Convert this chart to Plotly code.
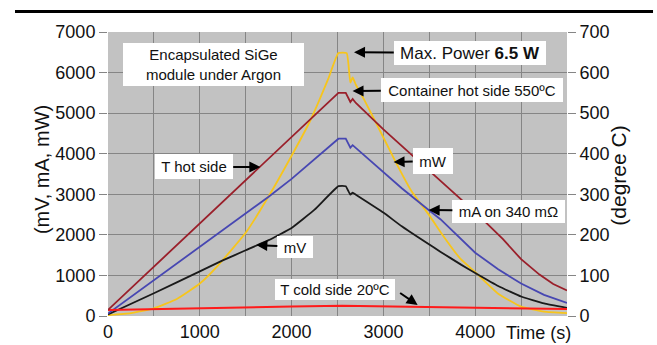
import plotly.graph_objects as go

# ---- data (time in s) ----
t_hot = [0, 500, 1000, 1500, 2000, 2510, 2590, 2640, 2665, 2700, 3000, 3500, 4000, 4300, 4500, 4700, 4850, 5000]
T_hot = [15, 121.5, 228, 335, 441.5, 550, 550, 527.5, 535, 525, 460, 358, 256, 190, 140, 102, 79, 63]  # degree C

t_cold = [0, 500, 1000, 1500, 2000, 2550, 3000, 3500, 4000, 4500, 5000]
T_cold = [15, 17.5, 19.5, 21.5, 23.5, 25.5, 24, 21.5, 19.5, 18, 17]  # degree C

t_mw = [0, 250, 500, 750, 1000, 1200, 1500, 1750, 2000, 2200, 2400, 2510, 2600, 2640, 2665, 2700, 2800,
        3000, 3133, 3300, 3500, 3650, 3843, 4000, 4250, 4500, 4750, 5000]
mW = [20, 70, 190, 420, 800, 1250, 2050, 2950, 3950, 4800, 5850, 6480, 6480, 5750, 5880, 5700, 5290,
      4400, 3800, 3100, 2480, 1980, 1400, 1080, 550, 230, 110, 70]

t_ma = [0, 500, 1000, 1250, 1750, 2000, 2250, 2510, 2590, 2640, 2665, 2700, 3000, 3200, 3500, 3624,
        4000, 4250, 4500, 4750, 5000]
mA = [60, 880, 1700, 2100, 2940, 3380, 3860, 4370, 4370, 4150, 4210, 4140, 3560, 3150, 2600, 2380,
      1560, 1150, 800, 520, 320]

t_mv = [0, 500, 1000, 1250, 1500, 1750, 2000, 2250, 2510, 2590, 2640, 2665, 2700, 3000, 3200, 3624,
        3850, 4000, 4250, 4500, 4750, 5000]
mV = [40, 560, 1100, 1370, 1620, 1870, 2170, 2620, 3200, 3200, 2990, 3040, 2990, 2550, 2210, 1580,
      1260, 1060, 740, 480, 310, 200]

x_tickvals = [0, 500, 1000, 1500, 2000, 2500, 3000, 3500, 4000, 4500]
x_ticktext = ["0", "", "1000", "", "2000", "", "3000", "", "4000", ""]

FONT = "Liberation Sans, Arial, sans-serif"
TXT = "#111111"

fig = go.Figure()
fig.add_trace(go.Scatter(x=t_cold, y=T_cold, yaxis="y2", mode="lines",
                         line=dict(color="#ff1a1a", width=2), name="T cold side"))
fig.add_trace(go.Scatter(x=t_mw, y=mW, mode="lines", line=dict(color="#f7c51b", width=1.8, shape="spline", smoothing=0.4), name="mW"))
fig.add_trace(go.Scatter(x=t_mv, y=mV, mode="lines", line=dict(color="#1a1a1a", width=1.8, shape="spline", smoothing=0.3), name="mV"))
fig.add_trace(go.Scatter(x=t_ma, y=mA, mode="lines", line=dict(color="#4747b2", width=1.8), name="mA"))
fig.add_trace(go.Scatter(x=t_hot, y=T_hot, yaxis="y2", mode="lines",
                         line=dict(color="#9a1f2a", width=1.8), name="T hot side"))

grid = "#858585"
fig.update_layout(
    width=657, height=345,
    margin=dict(l=108, r=90, t=32, b=29),
    paper_bgcolor="white", plot_bgcolor="#c2c2c2",
    showlegend=False,
    font=dict(family=FONT, color=TXT, size=18),
    xaxis=dict(range=[0, 5000], tickvals=x_tickvals, ticktext=x_ticktext, showgrid=True,
               gridcolor=grid, gridwidth=1, zeroline=False, ticks="", showline=False,
               automargin=False, ticklabelstandoff=3,
               tickfont=dict(size=18, family=FONT, color=TXT)),
    yaxis=dict(range=[0, 7000], dtick=1000, showgrid=True, gridcolor=grid, gridwidth=1,
               zeroline=False, ticks="outside", ticklen=8, tickcolor=grid, showline=False,
               automargin=False,
               tickfont=dict(size=18, family=FONT, color=TXT)),
    yaxis2=dict(range=[0, 700], dtick=100, overlaying="y", side="right", showgrid=False,
                zeroline=False, ticks="outside", ticklen=8, tickcolor=grid, showline=False,
                automargin=False,
                tickfont=dict(size=18, family=FONT, color=TXT)),
)

# top rule
fig.add_shape(type="line", xref="paper", yref="paper", x0=-0.2026, x1=1.1874, y0=1.072, y1=1.072,
              line=dict(color="black", width=3))

def box(text, x, y, w, h, size=15, **kw):
    fig.add_annotation(text=text, x=x, y=y, xref="x", yref="y", showarrow=False,
                       bgcolor="white", borderpad=0, borderwidth=0, width=w, height=h,
                       font=dict(size=size, family=FONT, color=TXT), **kw)

def arrow_box(text, tip_x, tip_y, cx, cy, w, h, size=15):
    fig.add_annotation(text=text, x=tip_x, y=tip_y, ax=cx, ay=cy, xref="x", yref="y",
                       axref="x", ayref="y", showarrow=True, arrowhead=2, arrowsize=1.1,
                       arrowwidth=2, arrowcolor="black",
                       bgcolor="white", borderpad=0, borderwidth=0, width=w, height=h,
                       font=dict(size=size, family=FONT, color=TXT))

box("Encapsulated SiGe<br>module under Argon", 1148, 6199, 181, 43)
arrow_box("Max. Power <b>6.5 W</b>", 2680, 6500, 3941, 6483, 152, 24, size=17)
arrow_box("Container hot side 550ºC", 2664, 5546, 3963, 5570, 182, 24)
arrow_box("T hot side", 1659, 3673, 939, 3673, 78, 25)
arrow_box("mW", 3111, 3796, 3537, 3820, 40, 26)
arrow_box("mA on 340 mΩ", 3493, 2613, 4367, 2588, 113, 23)
arrow_box("mV", 1616, 1750, 2041, 1700, 36, 22)
box("T cold side 20ºC", 2478, 641, 120, 21)
fig.add_annotation(text="", x=3373, y=271, ax=3166, ay=592, xref="x", yref="y", axref="x", ayref="y",
                   showarrow=True, arrowhead=2, arrowsize=1.1, arrowwidth=2, arrowcolor="black")

# axis titles and "Time (s)"
fig.add_annotation(text="(mV, mA, mW)", xref="paper", yref="paper", x=-0.172, y=0.514,
                   textangle=-90, showarrow=False, font=dict(size=20, family=FONT, color=TXT))
fig.add_annotation(text="(degree C)", xref="paper", yref="paper", x=1.142, y=0.493,
                   textangle=-90, showarrow=False, font=dict(size=21, family=FONT, color=TXT))
fig.add_annotation(text="Time (s)", xref="x", yref="paper", x=4694, y=-0.06, yanchor="middle",
                   showarrow=False, font=dict(size=18, family=FONT, color=TXT))

fig.write_html("out.html")
